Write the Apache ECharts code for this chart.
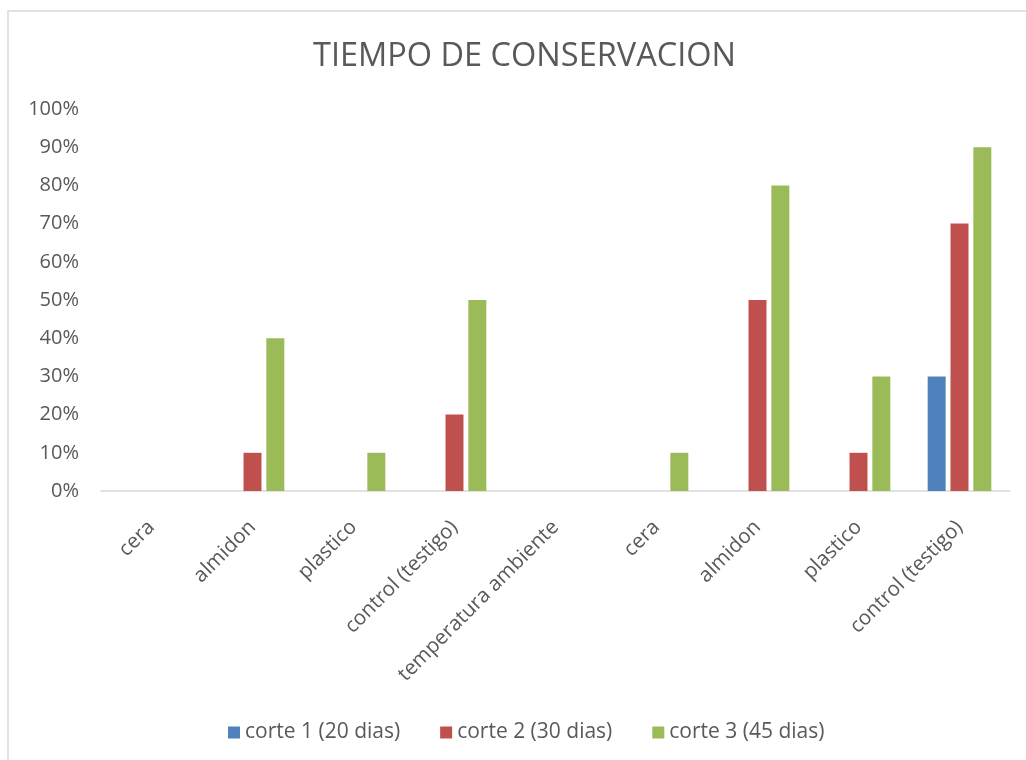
<!DOCTYPE html>
<html>
<head>
<meta charset="utf-8">
<script src="https://cdn.jsdelivr.net/npm/echarts@6/dist/echarts.min.js"></script>
<style>
html,body{margin:0;padding:0;background:#fff;}
#chart{width:1026px;height:760px;}
</style>
</head>
<body>
<div id="chart"></div>
<script>
// 数据
const categories = ['cera', 'almidon', 'plastico', 'control (testigo)', 'temperatura ambiente', 'cera', 'almidon', 'plastico', 'control (testigo)'];
const corte1 = [0, 0, 0, 0, 0, 0, 0, 0, 0.30];
const corte2 = [0, 0.10, 0, 0.20, 0, 0, 0.50, 0.10, 0.70];
const corte3 = [0, 0.40, 0.10, 0.50, 0, 0.10, 0.80, 0.30, 0.90];
const seriesNames = ['corte 1 (20 dias)', 'corte 2 (30 dias)', 'corte 3 (45 dias)'];
const colors = ['#4f81bd', '#c0504d', '#9bbb59'];

const font = '"Open Sans", "Liberation Sans", sans-serif';
let chart = echarts.init(document.getElementById('chart'));

function bar(name, data, color){
    return {
        name: name,
        type: 'bar',
        data: data,
        barGap: '27%',
        barCategoryGap: '37%',
        itemStyle: { color: color }
    };
}

chart.setOption({
    animation: false,
    color: colors,
    title: {
        text: 'TIEMPO DE CONSERVACION',
        left: 308,
        top: 35,
        textStyle: { color: '#595959', fontSize: 32.5, fontWeight: 'normal', fontFamily: font }
    },
    graphic: [{
        type: 'rect',
        shape: { x: 8, y: 11, width: 1100, height: 900 },
        style: { fill: 'none', stroke: '#d9d9d9', lineWidth: 1.5 },
        silent: true
    }],
    legend: {
        top: 717,
        left: 223,
        itemWidth: 12,
        itemHeight: 12,
        itemGap: 40,
        icon: 'rect',
        textStyle: { color: '#595959', fontSize: 21, fontFamily: font }
    },
    grid: { left: 101, right: 16, top: 109, bottom: 269 },
    xAxis: {
        type: 'category',
        data: categories,
        axisLine: { lineStyle: { color: '#d9d9d9', width: 1.5 } },
        axisTick: { show: false },
        axisLabel: {
            rotate: 45,
            interval: 0,
            margin: 33,
            color: '#595959',
            fontSize: 20.5,
            fontFamily: font
        }
    },
    yAxis: {
        type: 'value',
        min: 0,
        max: 1,
        interval: 0.1,
        splitLine: { show: false },
        axisLine: { show: false },
        axisTick: { show: false },
        axisLabel: {
            margin: 22,
            color: '#595959',
            fontSize: 20,
            fontFamily: font,
            formatter: v => Math.round(v * 100) + '%'
        }
    },
    series: [
        bar(seriesNames[0], corte1, colors[0]),
        bar(seriesNames[1], corte2, colors[1]),
        bar(seriesNames[2], corte3, colors[2])
    ]
});
</script>
</body>
</html>
